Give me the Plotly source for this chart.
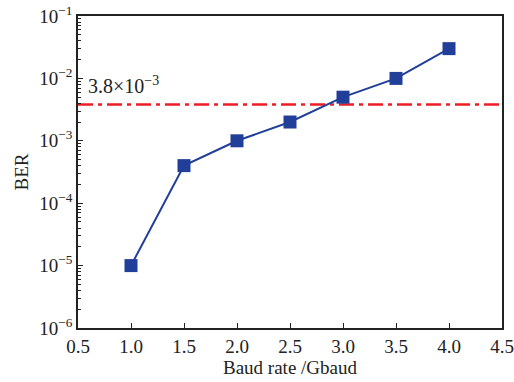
import plotly.graph_objects as go
import math

baud_rate = [1.0, 1.5, 2.0, 2.5, 3.0, 3.5, 4.0]
ber = [1e-5, 4e-4, 1e-3, 2e-3, 5e-3, 1e-2, 3e-2]
threshold = 3.8e-3
x_ticks = [0.5, 1.0, 1.5, 2.0, 2.5, 3.0, 3.5, 4.0, 4.5]
y_exps = [-6, -5, -4, -3, -2, -1]

FONT = "Liberation Serif"
blue = "#213f99"
FS = 19

fig = go.Figure()
fig.add_trace(go.Scatter(
    x=[0.5, 4.5], y=[threshold, threshold], mode="lines",
    line=dict(color="#ee1c25", width=2.5, dash="15px,5px,4px,5px"),
    showlegend=False, hoverinfo="skip"))
fig.add_trace(go.Scatter(
    x=baud_rate, y=ber, mode="lines+markers",
    line=dict(color=blue, width=2),
    marker=dict(symbol="square", size=13, color=blue),
    showlegend=False))

minor_vals = [m * 10 ** e for e in y_exps[:-1] for m in range(2, 10)]

fig.update_layout(
    width=514, height=382,
    margin=dict(l=78, r=12, t=16, b=54),
    paper_bgcolor="white", plot_bgcolor="white",
    font=dict(family=FONT, size=FS, color="#222"),
    xaxis=dict(
        range=[0.5, 4.5], tickvals=x_ticks,
        ticktext=[f"{v:.1f}" for v in x_ticks],
        ticks="inside", ticklen=5, tickwidth=1.3, tickcolor="#222",
        showline=True, linecolor="#222", linewidth=1.5, mirror=True,
        showgrid=False, zeroline=False, automargin=False,
        tickfont=dict(size=FS),
        title=dict(text="Baud rate /Gbaud", standoff=2, font=dict(size=FS)),
    ),
    yaxis=dict(
        type="log", range=[-6, -1],
        tickvals=[10 ** e for e in y_exps],
        ticktext=[f"10<sup>−{-e}</sup>" for e in y_exps],
        ticks="inside", ticklen=5, tickwidth=1.3, tickcolor="#222",
        minor=dict(ticks="inside", ticklen=3, tickvals=minor_vals, tickcolor="#222", showgrid=False),
        showline=True, linecolor="#222", linewidth=1.5, mirror=True,
        showgrid=False, zeroline=False, automargin=False,
        tickfont=dict(size=FS),
        title=dict(text="BER", standoff=6, font=dict(size=FS)),
    ),
)

fig.add_annotation(
    x=0.58, y=math.log10(7.8e-3), xref="x", yref="y",
    text="3.8×10<sup>−3</sup>", showarrow=False,
    xanchor="left", yanchor="middle", font=dict(size=20, family=FONT, color="#222"))

fig.write_html("out.html", config={"displayModeBar": False},
               post_script="document.body.style.margin='0';document.body.style.overflow='hidden';")
